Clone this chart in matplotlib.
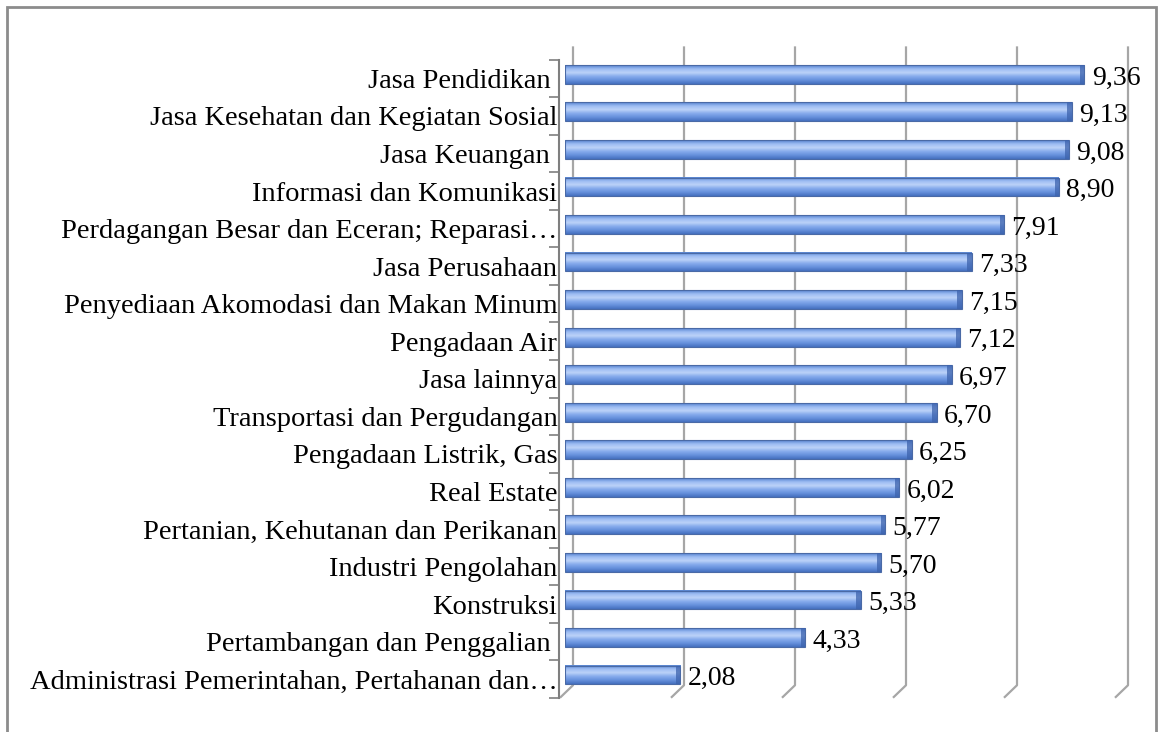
import numpy as np
import matplotlib
matplotlib.use("Agg")
import matplotlib.pyplot as plt
from matplotlib.colors import LinearSegmentedColormap
from matplotlib.patches import Rectangle
from matplotlib.transforms import blended_transform_factory, ScaledTranslation

# data, top to bottom as in the picture
sectors = [
    "Jasa Pendidikan ",
    "Jasa Kesehatan dan Kegiatan Sosial",
    "Jasa Keuangan ",
    "Informasi dan Komunikasi",
    "Perdagangan Besar dan Eceran; Reparasi\u2026",
    "Jasa Perusahaan",
    "Penyediaan Akomodasi dan Makan Minum",
    "Pengadaan Air",
    "Jasa lainnya",
    "Transportasi dan Pergudangan",
    "Pengadaan Listrik, Gas",
    "Real Estate",
    "Pertanian, Kehutanan dan Perikanan",
    "Industri Pengolahan",
    "Konstruksi",
    "Pertambangan dan Penggalian ",
    "Administrasi Pemerintahan, Pertahanan dan\u2026",
]
growth = [9.36, 9.13, 9.08, 8.90, 7.91, 7.33, 7.15, 7.12, 6.97,
          6.70, 6.25, 6.02, 5.77, 5.70, 5.33, 4.33, 2.08]
grid_ticks = [0, 2, 4, 6, 8, 10]

plt.rcParams['font.family'] = ['Liberation Serif', 'DejaVu Serif']

W, H = 1158, 732
fig = plt.figure(figsize=(W / 100, H / 100), dpi=100)
fig.patch.set_facecolor('white')
ax = fig.add_axes([565 / W, (H - 698) / H, 555 / W, 638.4 / H])

# outer chart border
fig.patches.append(Rectangle((7 / W, -0.02), (1156 - 7) / W, (H - 7) / H + 0.02,
                             transform=fig.transFigure, fill=False,
                             edgecolor='#8c8c8c', lw=2))

# back wall gridlines with a small 3d foot
gtrans = blended_transform_factory(ax.transData, ax.transAxes) + \
    ScaledTranslation(8 / 100, 0, fig.dpi_scale_trans)
for v in grid_ticks:
    ax.plot([v, v, v - 0.22], [1.019, 0.02, 0.0016], color='#a6a6a6', lw=1.6,
            transform=gtrans, clip_on=False, zorder=1)

# cylinder-like bars
cmap = LinearSegmentedColormap.from_list(
    'bar', ['#5582cf', '#9dbcf3', '#bcd2f8', '#86abec', '#6690dc', '#4570bf'])
grad = np.linspace(0, 1, 64).reshape(-1, 1)
bh = 0.5
ypos = np.arange(len(sectors))
for y, v in zip(ypos, growth):
    yc = y - 0.11
    ax.imshow(grad, cmap=cmap, aspect='auto', extent=(0, v, yc + bh / 2, yc - bh / 2),
              zorder=3, interpolation='bilinear')
    ax.add_patch(Rectangle((0, yc - bh / 2), v, bh, fill=False, edgecolor='#4a6aa6',
                           lw=0.8, zorder=4))
    ax.add_patch(Rectangle((v - 0.08, yc - bh / 2), 0.08, bh, facecolor='#3d63ad',
                           edgecolor='none', alpha=0.75, zorder=4))
    ax.text(v + 0.13, y - 0.01, f"{v:.2f}".replace('.', ','), ha='left', va='center',
            fontsize=20, color='black', zorder=5)

ax.set_xlim(0, 10)
ax.set_ylim(len(sectors) - 0.5, -0.5)

ax.set_yticks(ypos)
ax.set_yticklabels(sectors)
ax.set_yticks(np.arange(len(sectors) + 1) - 0.5, minor=True)
ax.tick_params(axis='y', which='major', length=0, pad=1.5, labelsize=20.5)
ax.tick_params(axis='y', which='minor', length=7, width=1.2, color='#7f7f7f', direction='out')
ax.set_xticks([])

for s in ['top', 'right', 'bottom']:
    ax.spines[s].set_visible(False)
ax.spines['left'].set_position(('outward', 4))
ax.spines['left'].set_color('#7f7f7f')
ax.spines['left'].set_linewidth(1.5)
ax.set_facecolor('none')

fig.savefig('out.png', dpi=100, facecolor='white')
